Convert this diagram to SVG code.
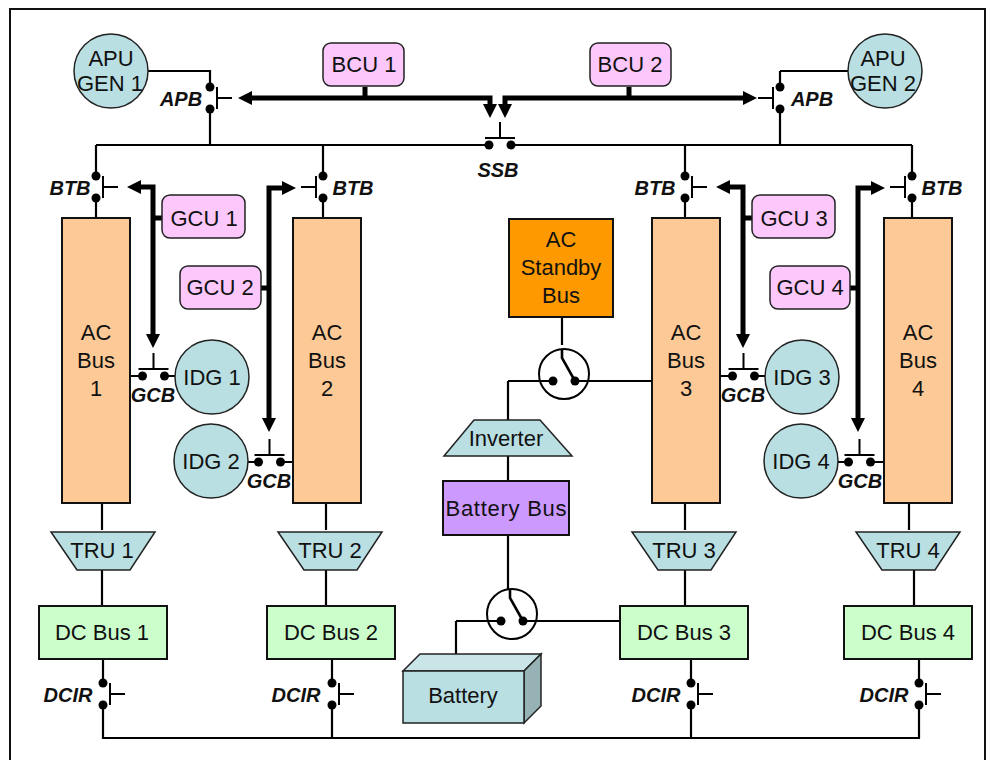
<svg xmlns="http://www.w3.org/2000/svg" width="990" height="760" viewBox="0 0 990 760">
<style>
text{font-family:"Liberation Sans",Arial,sans-serif;font-size:22px;fill:#111;text-anchor:middle}
.l{font-weight:bold;font-style:italic;font-size:20px}
.c{fill:#b9dfe3;stroke:#222;stroke-width:1.5}
.ac{fill:#fdc996;stroke:#111;stroke-width:2}
.u{fill:#fcc8fc;stroke:#222;stroke-width:1.5}
.dc{fill:#ccfecc;stroke:#111;stroke-width:2}
.w{fill:none;stroke:#000;stroke-width:2.2}
.t{fill:none;stroke:#000;stroke-width:5}
.s{fill:none;stroke:#000;stroke-width:2}
.a{fill:#000}
</style>
<defs>
<g id="vsw"><circle cx="0" cy="-11" r="4.5"/><circle cx="0" cy="11" r="4.5"/><path class="s" d="M7-11V11M7 0H22"/></g>
<g id="vswl"><circle cx="0" cy="-11" r="4.5"/><circle cx="0" cy="11" r="4.5"/><path class="s" d="M-7-11V11M-7 0H-22"/></g>
<g id="hsw"><circle cx="-11" cy="0" r="4.5"/><circle cx="11" cy="0" r="4.5"/><path class="s" d="M-15-7H15M0-7V-23"/></g>
<g id="rot"><circle cx="0" cy="0" r="25" fill="#fff" stroke="#000" stroke-width="2"/><circle cx="-11" cy="7" r="4.5"/><circle cx="11" cy="7" r="4.5"/><path fill="none" stroke="#000" stroke-width="2.6" d="M-2-25V-16L11 7"/><path class="s" d="M-26 7H-11M11 7H26"/></g>
</defs>
<rect x="10" y="9" width="975" height="770" fill="#fff" stroke="#111" stroke-width="2"/>
<g id="connectors">
<path class="w" d="M148 71H210V87M210 109V145M96 145H489M511 145H912M96 145V176M96 198V218M323 145V176M323 198V218M685 145V176M685 198V218M912 145V176M912 198V218M780 71H848M780 71V87M780 109V145"/>
<path class="w" d="M102 503V530M326 503V530M685 503V530M909 503V530M102 570V605M326 570V605M685 570V605M914 570V605M103 659V683M103 705V738H919V705M919 659V683M332 659V683M332 705V738M691 659V683M691 705V738"/>
<path class="w" d="M130 376H142M165 376H175M248 462H258M281 462H293M720 376H732M755 376H765M838 462H848M871 462H884"/>
<path class="w" d="M562 317V345M508 381H540M588 381H652M508 381V420M508 456V482M508 535V590M456 621H486M536 621H620M456 621V654"/>
<path class="t" d="M365 87V98M629 87V98M250 98H490V106M505 106V98H745"/>
<path class="a" d="M238 98L252 91V105ZM757 98L743 91V105ZM490 118L483 104H497ZM505 118L498 104H512Z"/>
<path class="t" d="M138 187H153V338M153 218H162M285 188H269V420M261 288H269M728 187H743V338M743 218H752M873 188H858V420M850 288H858"/>
<path class="a" d="M127 187L141 180V194ZM296 188L282 181V195ZM716 187L730 180V194ZM885 188L871 181V195ZM153 348L146 334H160ZM269 432L262 418H276ZM743 348L736 334H750ZM858 432L851 418H865Z"/>
</g>
<g id="apu1"><circle class="c" cx="111" cy="71" r="37"/><text x="111" y="66">APU</text><text x="110" y="91">GEN 1</text></g>
<g id="apu2"><circle class="c" cx="885" cy="71" r="37"/><text x="883" y="66">APU</text><text x="883" y="91">GEN 2</text></g>
<g id="bcu1"><rect class="u" x="323" y="43" width="81" height="43" rx="8"/><text x="364" y="72">BCU 1</text></g>
<g id="bcu2"><rect class="u" x="590" y="43" width="81" height="43" rx="8"/><text x="630" y="72">BCU 2</text></g>
<g id="apb1"><use href="#vsw" x="210" y="98"/><text class="l" x="181" y="106">APB</text></g>
<g id="apb2"><use href="#vswl" x="780" y="98"/><text class="l" x="812" y="106">APB</text></g>
<g id="ssb"><use href="#hsw" x="500" y="145"/><text class="l" x="498" y="177">SSB</text></g>
<g id="btb1"><use href="#vsw" x="96" y="187"/><text class="l" x="70" y="195">BTB</text></g>
<g id="btb2"><use href="#vswl" x="323" y="187"/><text class="l" x="353" y="195">BTB</text></g>
<g id="btb3"><use href="#vsw" x="685" y="187"/><text class="l" x="655" y="195">BTB</text></g>
<g id="btb4"><use href="#vswl" x="912" y="187"/><text class="l" x="942" y="195">BTB</text></g>
<g id="gcu1"><rect class="u" x="162" y="195" width="83" height="43" rx="8"/><text x="204" y="226">GCU 1</text></g>
<g id="gcu2"><rect class="u" x="180" y="266" width="81" height="43" rx="8"/><text x="220" y="295">GCU 2</text></g>
<g id="gcu3"><rect class="u" x="752" y="195" width="83" height="43" rx="8"/><text x="794" y="226">GCU 3</text></g>
<g id="gcu4"><rect class="u" x="770" y="266" width="80" height="43" rx="8"/><text x="810" y="295">GCU 4</text></g>
<g id="acbus1"><rect class="ac" x="62" y="218" width="68" height="285"/><text x="96" y="340">AC</text><text x="96" y="368">Bus</text><text x="96" y="396">1</text></g>
<g id="acbus2"><rect class="ac" x="293" y="218" width="68" height="285"/><text x="327" y="340">AC</text><text x="327" y="368">Bus</text><text x="327" y="396">2</text></g>
<g id="acbus3"><rect class="ac" x="652" y="218" width="68" height="285"/><text x="686" y="340">AC</text><text x="686" y="368">Bus</text><text x="686" y="396">3</text></g>
<g id="acbus4"><rect class="ac" x="884" y="218" width="68" height="285"/><text x="918" y="340">AC</text><text x="918" y="368">Bus</text><text x="918" y="396">4</text></g>
<g id="gcb1"><use href="#hsw" x="153.500" y="376"/><text class="l" x="153" y="402">GCB</text></g>
<g id="gcb2"><use href="#hsw" x="269.500" y="462"/><text class="l" x="269" y="488">GCB</text></g>
<g id="gcb3"><use href="#hsw" x="743.500" y="376"/><text class="l" x="743" y="402">GCB</text></g>
<g id="gcb4"><use href="#hsw" x="859.500" y="462"/><text class="l" x="860" y="488">GCB</text></g>
<g id="idg1"><circle class="c" cx="212" cy="377" r="37"/><text x="212" y="385">IDG 1</text></g>
<g id="idg2"><circle class="c" cx="211" cy="461" r="37"/><text x="211" y="469">IDG 2</text></g>
<g id="idg3"><circle class="c" cx="802" cy="377" r="37"/><text x="802" y="385">IDG 3</text></g>
<g id="idg4"><circle class="c" cx="801" cy="461" r="37"/><text x="801" y="469">IDG 4</text></g>
<g id="acstandby"><rect x="509" y="219" width="104" height="98" fill="#fe9a00" stroke="#111" stroke-width="2"/><text x="561" y="247">AC</text><text x="561" y="275">Standby</text><text x="561" y="303">Bus</text></g>
<g id="sw1"><use href="#rot" x="564" y="374"/></g>
<g id="sw2"><use href="#rot" x="512" y="614"/></g>
<g id="inverter"><path class="c" d="M444 456L474 420H540L572 456Z"/><text x="506" y="446">Inverter</text></g>
<g id="batbus"><rect x="443" y="481" width="126" height="54" fill="#cc99fe" stroke="#111" stroke-width="2"/><text x="506" y="516" textLength="121" lengthAdjust="spacing">Battery Bus</text></g>
<g id="tru1"><path class="c" d="M51 532H155L130 570H77Z"/><text x="102" y="558">TRU 1</text></g>
<g id="tru2"><path class="c" d="M278 532H382L357 570H304Z"/><text x="330" y="558">TRU 2</text></g>
<g id="tru3"><path class="c" d="M632 532H736L711 570H658Z"/><text x="684" y="558">TRU 3</text></g>
<g id="tru4"><path class="c" d="M856 532H960L935 570H882Z"/><text x="908" y="558">TRU 4</text></g>
<g id="dcbus1"><rect class="dc" x="39" y="606" width="128" height="53"/><text x="102" y="640">DC Bus 1</text></g>
<g id="dcbus2"><rect class="dc" x="267" y="606" width="128" height="53"/><text x="331" y="640">DC Bus 2</text></g>
<g id="dcbus3"><rect class="dc" x="620" y="606" width="128" height="53"/><text x="684" y="640">DC Bus 3</text></g>
<g id="dcbus4"><rect class="dc" x="844" y="606" width="128" height="53"/><text x="908" y="640">DC Bus 4</text></g>
<g id="battery"><path d="M403 671L420 654H541L524 671Z" fill="#c9e5e8" stroke="#222" stroke-width="1.5"/><path d="M524 671L541 654V706L524 723Z" fill="#97b2b5" stroke="#222" stroke-width="1.5"/><rect class="c" x="403" y="671" width="121" height="52"/><text x="463" y="703">Battery</text></g>
<g id="dcir1"><use href="#vsw" x="103" y="694"/><text class="l" x="68" y="702">DCIR</text></g>
<g id="dcir2"><use href="#vsw" x="332" y="694"/><text class="l" x="296" y="702">DCIR</text></g>
<g id="dcir3"><use href="#vsw" x="691" y="694"/><text class="l" x="656" y="702">DCIR</text></g>
<g id="dcir4"><use href="#vsw" x="919" y="694"/><text class="l" x="884" y="702">DCIR</text></g>
</svg>
